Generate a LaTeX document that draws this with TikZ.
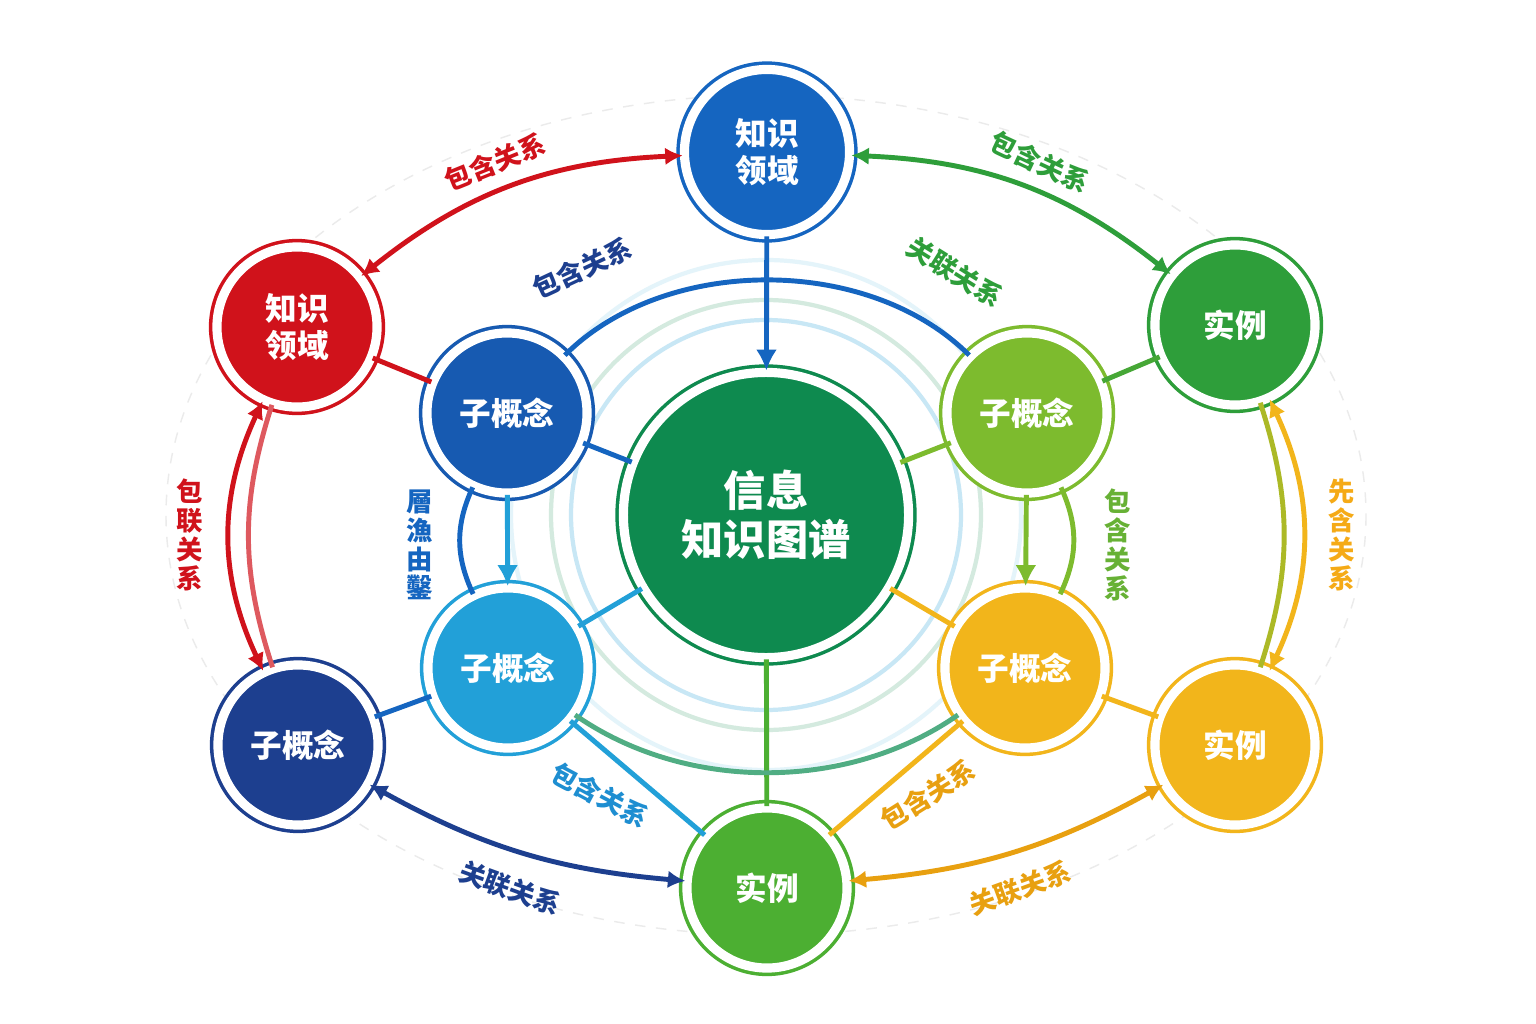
\documentclass[tikz,border=0pt]{standalone}
\usepackage{fontspec}
\setmainfont{Noto Sans CJK SC}
\usetikzlibrary{arrows.meta}
\definecolor{cred}{HTML}{D0121B}
\definecolor{cblue}{HTML}{1565C0}
\definecolor{cgreen}{HTML}{0E8A4F}
\definecolor{cdark}{HTML}{1D3F8F}
\definecolor{clight}{HTML}{22A0D8}
\definecolor{cinst}{HTML}{2E9E3A}
\definecolor{clime}{HTML}{7DBB2E}
\definecolor{cyel}{HTML}{F2B51B}
\definecolor{cbot}{HTML}{4CAF32}
\definecolor{corange}{HTML}{E8A010}
\tikzset{
  ent/.style={circle, fill=#1, draw=#1, line width=1pt, double=white, double distance=2.6pt,
    minimum size=1.6cm, inner sep=0pt, align=center, text=white, font=\bfseries\fontsize{9}{10.5}\selectfont},
  link/.style={line width=1.4pt, draw=#1},
  rel/.style={link=#1, {Latex[length=5pt,width=5pt]}-{Latex[length=5pt,width=5pt]}},
  lab/.style={text=#1, font=\bfseries\fontsize{7.5}{8}\selectfont, inner sep=0pt},
  vlab/.style={lab=#1, align=center, font=\bfseries\fontsize{7.5}{8.2}\selectfont}
}
\begin{document}
\begin{tikzpicture}[x=0.01cm, y=-0.01cm]
\useasboundingbox (0,0) rectangle (1536,1024);
\fill[white] (0,0) rectangle (1536,1024);

% faint rings
\foreach \r/\c in {195/clight!25, 215/cgreen!18, 255/clight!12} {
  \draw[\c, line width=1.2pt] (766,515) circle (\r);
}
\draw[black!8, dashed] (766,515) ellipse (600 and 420);

% nodes
\node[ent=cgreen, minimum size=2.85cm, font=\bfseries\fontsize{12}{14}\selectfont] (kg) at (766,515) {信息\\知识图谱};
\node[ent=cblue, minimum size=1.65cm] (dtop) at (767,152) {知识\\领域};
\node[ent=cred] (dleft) at (297,327) {知识\\领域};
\node[ent=cblue!70!cdark] (sc1) at (507,413) {子概念};
\node[ent=clight] (sc2) at (508,668) {子概念};
\node[ent=cdark] (sc3) at (298,745) {子概念};
\node[ent=clime] (sc4) at (1027,413) {子概念};
\node[ent=cyel] (sc5) at (1025,668) {子概念};
\node[ent=cbot] (in1) at (767,888) {实例};
\node[ent=cinst] (in2) at (1235,325) {实例};
\node[ent=cyel] (in3) at (1235,745) {实例};

% straight links
\draw[link=cred] (dleft) -- (sc1);
\draw[link=cblue] (sc1) -- (kg);
\draw[link=clight] (kg) -- (sc2);
\draw[link=cblue] (sc2) -- (sc3);
\draw[link=clight] (sc2) -- (in1);
\draw[link=cbot] (kg) -- (in1);
\draw[link=cyel] (sc5) -- (in1);
\draw[link=clime] (kg) -- (sc4);
\draw[link=cinst!70!clime] (sc4) -- (in2);
\draw[link=cyel] (kg) -- (sc5);
\draw[link=cyel] (sc5) -- (in3);
\draw[link=cblue, -{Latex[length=6pt,width=6pt]}] (dtop) -- (kg);
\draw[link=clight, -{Latex[length=6pt,width=6pt]}] (sc1) -- (sc2);
\draw[link=clime, -{Latex[length=6pt,width=6pt]}] (sc4) -- (sc5);

% curved links
\draw[link=cblue] (sc1) to[out=45, in=135, looseness=0.9] (sc4);
\draw[link=clight!50!clime] (sc2) to[out=-35, in=-145, looseness=0.9] (sc5);
\draw[link=cblue] (sc1) to[bend right=25] (sc2);
\draw[link=clime] (sc4) to[bend left=25] (sc5);
\draw[link=cred!70] (dleft) to[bend right=18] (sc3);
\draw[link=clime!60!cyel] (in2) to[bend left=18] (in3);

% outer relations
\draw[rel=cred] (dleft) to[bend left=18] (dtop);
\draw[rel=cinst] (dtop) to[bend left=18] (in2);
\draw[rel=cred] (dleft) to[bend right=25] (sc3);
\draw[rel=cyel] (in2) to[bend left=25] (in3);
\draw[rel=cdark] (sc3) to[bend right=12] (in1);
\draw[rel=corange] (in1) to[bend right=12] (in3);

% labels
\node[lab=cred, rotate=22] (l1) at (495,162) {包含关系};
\node[lab=cinst, rotate=-25] (l2) at (1040,162) {包含关系};
\node[lab=cdark, rotate=25] (l3) at (582,268) {包含关系};
\node[lab=cinst, rotate=-32] (l4) at (955,272) {关联关系};
\node[vlab=cred] (l5) at (190,535) {包\\联\\关\\系};
\node[vlab=cyel!80!orange] (l6) at (1342,535) {先\\含\\关\\系};
\node[vlab=cblue] (l7) at (420,545) {層\\漁\\由\\鑿};
\node[vlab=clime!80!cgreen] (l8) at (1118,545) {包\\含\\关\\系};
\node[lab=clight!70!cblue, rotate=-28] (l9) at (600,795) {包含关系};
\node[lab=corange, rotate=32] (l10) at (928,795) {包含关系};
\node[lab=cdark, rotate=-20] (l11) at (510,888) {关联关系};
\node[lab=corange, rotate=20] (l12) at (1020,888) {关联关系};
\end{tikzpicture}
\end{document}
